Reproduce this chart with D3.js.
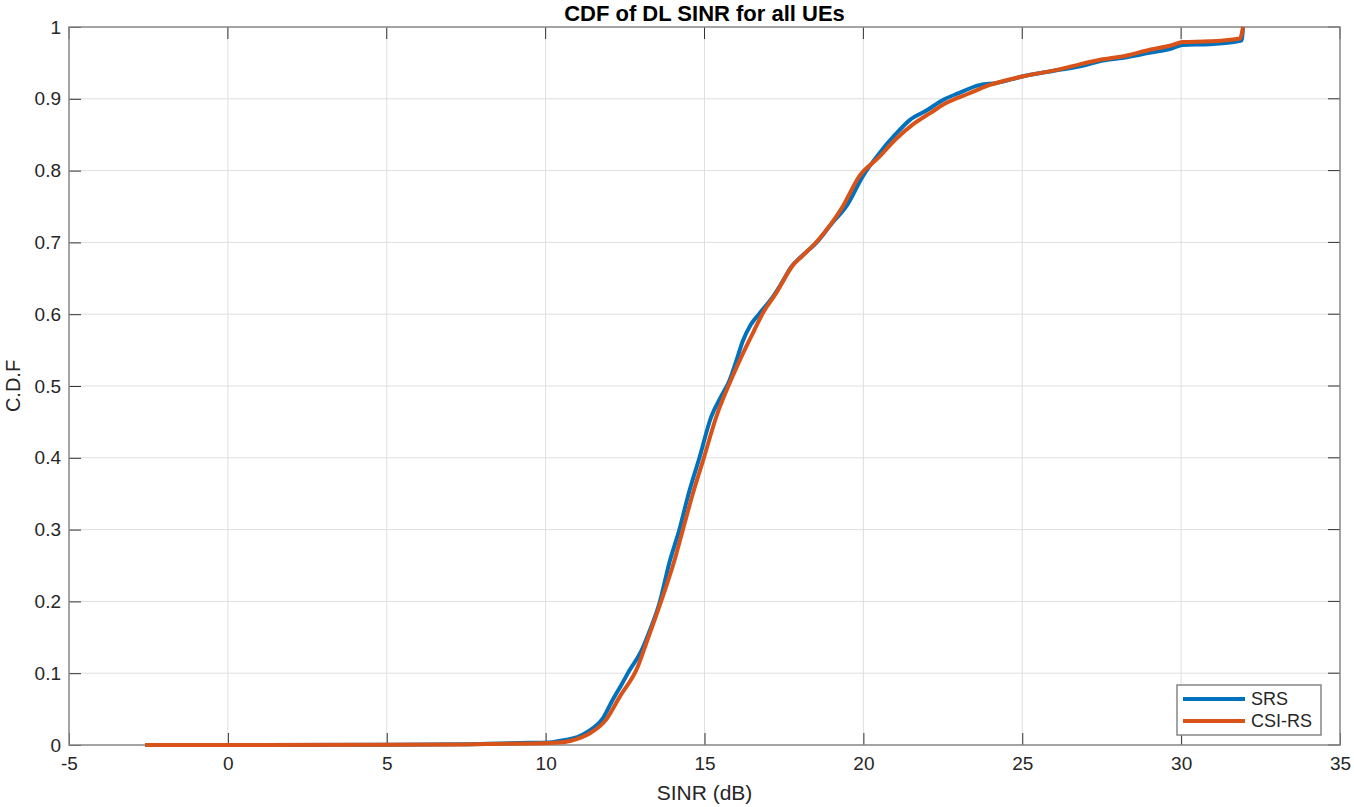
<!DOCTYPE html>
<html>
<head>
<meta charset="utf-8">
<script src="https://cdn.jsdelivr.net/npm/d3@7"></script>
<style>
  body { margin: 0; background: #fff; }
  text { font-family: Arial, "Liberation Sans", Helvetica, sans-serif; }
</style>
</head>
<body>
<div id="chart"></div>
<script>
// CDF curves: [SINR dB, cdf]
let srsData = [
  [-2.6,0],[5,0.0005],[7.5,0.001],[8.5,0.002],[9.5,0.003],[10.2,0.004],[10.6,0.007],
  [11,0.011],[11.3,0.018],[11.8,0.037],[12.1,0.062],[12.4,0.085],[12.64,0.104],[13.0,0.13],
  [13.3,0.162],[13.58,0.197],[13.9,0.255],[14.21,0.30],[14.5,0.35],[14.84,0.40],[15.21,0.457],
  [15.52,0.485],[15.79,0.508],[16.0,0.535],[16.2,0.562],[16.45,0.585],[16.73,0.601],
  [17.15,0.624],[17.45,0.645],[17.73,0.666],[18.04,0.68],[18.51,0.699],[19.0,0.726],
  [19.46,0.75],[19.98,0.792],[20.5,0.824],[21.0,0.85],[21.45,0.870],[22.0,0.884],
  [22.49,0.898],[23.0,0.908],[23.65,0.919],[24.2,0.922],[25,0.931],[26,0.939],[26.79,0.945],
  [27.5,0.953],[28.3,0.958],[29,0.964],[29.7,0.970],[30.05,0.975],[30.9,0.976],[31.9,0.981],
  [31.95,1.0]
];
let csiData = [
  [-2.6,0],[5,0.0003],[7.5,0.0008],[8.5,0.0015],[9.5,0.002],[10.3,0.003],[10.8,0.006],
  [11.38,0.016],[11.9,0.035],[12.33,0.067],[12.9,0.109],[13.17,0.142],[13.58,0.193],
  [14.06,0.258],[14.32,0.30],[14.6,0.345],[14.98,0.40],[15.37,0.457],[15.83,0.508],
  [16.26,0.55],[16.57,0.578],[16.83,0.601],[17.25,0.629],[17.78,0.668],[18.1,0.682],
  [18.55,0.702],[19.35,0.75],[19.87,0.792],[20.5,0.819],[21.0,0.843],[21.55,0.864],
  [22.1,0.88],[22.6,0.894],[23.3,0.907],[23.96,0.919],[25,0.931],[26.16,0.941],[26.9,0.949],
  [27.53,0.955],[28.26,0.96],[28.89,0.967],[29.73,0.975],[30.05,0.979],[30.88,0.980],
  [31.85,0.984],[31.95,1.0]
];
let seriesNames = ["SRS", "CSI-RS"];
let seriesColors = ["#0072bd", "#d95319"];
let xTicks = [-5,0,5,10,15,20,25,30,35];
let yTicks = [0,0.1,0.2,0.3,0.4,0.5,0.6,0.7,0.8,0.9,1];

let svgWidth = 1354, svgHeight = 807;
let margin = {left: 69, top: 27, right: 14, bottom: 62};
let plotW = svgWidth - margin.left - margin.right;
let plotH = svgHeight - margin.top - margin.bottom;

let svg = d3.select("#chart").append("svg")
  .attr("width", svgWidth)
  .attr("height", svgHeight);

let g = svg.append("g")
  .attr("transform", `translate(${margin.left},${margin.top})`);

let xScale = d3.scaleLinear().domain([-5, 35]).range([0, plotW]);
let yScale = d3.scaleLinear().domain([0, 1]).range([plotH, 0]);

// grid
g.append("g").selectAll("line").data(xTicks.slice(1, -1)).enter().append("line")
  .attr("x1", d => xScale(d)).attr("x2", d => xScale(d))
  .attr("y1", 0).attr("y2", plotH)
  .attr("stroke", "#dfdfdf").attr("stroke-width", 1);
g.append("g").selectAll("line").data(yTicks.slice(1, -1)).enter().append("line")
  .attr("y1", d => yScale(d)).attr("y2", d => yScale(d))
  .attr("x1", 0).attr("x2", plotW)
  .attr("stroke", "#dfdfdf").attr("stroke-width", 1);

// axes (ticks inward, labels outside)
let xAxis = d3.axisBottom(xScale).tickValues(xTicks).tickSizeInner(-12).tickSizeOuter(0)
  .tickFormat(d => String(d));
let yAxis = d3.axisLeft(yScale).tickValues(yTicks).tickSizeInner(-12).tickSizeOuter(0)
  .tickFormat(d => d === 0 || d === 1 ? String(d) : d3.format(".1f")(d));

let xg = g.append("g").attr("transform", `translate(0,${plotH})`).call(xAxis);
let yg = g.append("g").call(yAxis);
[xg, yg].forEach(a => {
  a.select(".domain").remove();
  a.selectAll(".tick line").attr("stroke", "#333").attr("stroke-width", 1);
  a.selectAll(".tick text").attr("fill", "#262626").style("font-size", "19px");
});
// labels sit a few pixels from the box, ticks point inward
yg.selectAll(".tick text").attr("x", -8);
xg.selectAll(".tick text").attr("y", 12).attr("dy", "0.71em");

// top ticks and right ticks
g.append("g").selectAll("line").data(xTicks).enter().append("line")
  .attr("x1", d => xScale(d)).attr("x2", d => xScale(d))
  .attr("y1", 0).attr("y2", 12).attr("stroke", "#333");
g.append("g").selectAll("line").data(yTicks).enter().append("line")
  .attr("y1", d => yScale(d)).attr("y2", d => yScale(d))
  .attr("x1", plotW - 12).attr("x2", plotW).attr("stroke", "#333");

// box
g.append("rect")
  .attr("x", 0).attr("y", 0).attr("width", plotW).attr("height", plotH)
  .attr("fill", "none").attr("stroke", "#868686").attr("stroke-width", 1.5);

// lines
let line = d3.line().x(d => xScale(d[0])).y(d => yScale(d[1])).curve(d3.curveMonotoneX);
[srsData, csiData].forEach((data, i) => {
  g.append("path").datum(data)
    .attr("d", line)
    .attr("fill", "none")
    .attr("stroke", seriesColors[i])
    .attr("stroke-width", 4)
    .attr("stroke-linejoin", "round");
});

// title and labels
svg.append("text")
  .attr("x", margin.left + plotW / 2).attr("y", 21)
  .attr("text-anchor", "middle")
  .style("font-size", "22px").style("font-weight", "bold").attr("fill", "#000")
  .text("CDF of DL SINR for all UEs");
svg.append("text")
  .attr("x", margin.left + plotW / 2).attr("y", 800)
  .attr("text-anchor", "middle")
  .style("font-size", "21px").attr("fill", "#262626")
  .text("SINR (dB)");
svg.append("text")
  .attr("transform", `translate(20,${margin.top + plotH / 2}) rotate(-90)`)
  .attr("text-anchor", "middle")
  .style("font-size", "20px").attr("fill", "#262626")
  .text("C.D.F");

// legend
let legend = svg.append("g").attr("transform", "translate(1177,685)");
legend.append("rect")
  .attr("width", 144).attr("height", 50)
  .attr("fill", "#fff").attr("stroke", "#868686").attr("stroke-width", 1.5);
seriesNames.forEach((name, i) => {
  let yy = 14 + i * 22;
  legend.append("line")
    .attr("x1", 6).attr("x2", 68).attr("y1", yy).attr("y2", yy)
    .attr("stroke", seriesColors[i]).attr("stroke-width", 4);
  legend.append("text")
    .attr("x", 74).attr("y", yy).attr("dy", "0.35em")
    .style("font-size", "18px").attr("fill", "#262626")
    .text(name);
});
</script>
</body>
</html>
